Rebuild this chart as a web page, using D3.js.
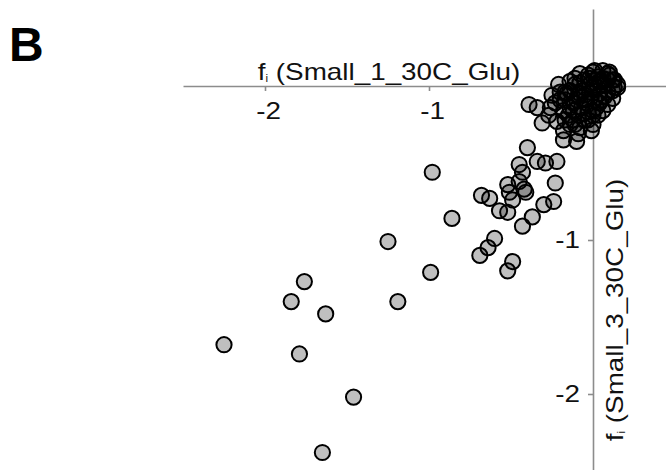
<!DOCTYPE html>
<html>
<head>
<meta charset="utf-8">
<script src="https://cdn.jsdelivr.net/npm/d3@7"></script>
<style>
  body { margin: 0; background: #fff; }
  svg text { font-family: "Liberation Sans", Arial, Helvetica, sans-serif; }
</style>
</head>
<body>
<svg id="chart" width="666" height="470"></svg>
<script>
// ---- data ----
const xValues = [
  -0.98, -0.86, -1.25, -0.99, -1.76, -1.84, -1.19, -1.63, -2.25, -1.79, -1.46, -1.65,
  -0.40, -0.34, -0.29, -0.22, -0.45, -0.43, -0.23, -0.52, -0.45, -0.51, -0.41, -0.42,
  -0.68, -0.63, -0.49, -0.57, -0.52, -0.30, -0.24, -0.37, -0.43, -0.60, -0.64, -0.69,
  -0.49, -0.52, -0.18, -0.10,
  -0.39, -0.34, -0.26, -0.31, -0.22, 0.00, -0.18, -0.12, -0.08, -0.15, -0.17, -0.14,
  -0.08, 0.00, 0.09, 0.13, 0.09, 0.00, -0.02, 0.04, -0.08, -0.04, 0.02, -0.10,
  -0.20, -0.21, -0.06, 0.00, -0.12,
  -0.05, 0.04, 0.10, 0.15, 0.09, 0.05, 0.00, 0.06, -0.07, -0.16, -0.12, -0.18,
  -0.25, -0.11, -0.02, 0.03, 0.12, 0.07, 0.12, -0.03, -0.14, -0.27, -0.09, 0.01, -0.05,
  -0.03, 0.01, 0.06, 0.10, 0.13, 0.15, 0.12, 0.07, 0.03, -0.02, -0.06, -0.09, -0.05,
  -0.01, 0.04, 0.09, 0.03, -0.03, -0.09, -0.14, -0.17, -0.11, -0.08, -0.14, -0.20,
  -0.23, 0.06, 0.02, -0.05, -0.01, -0.11, -0.17
];
const yValues = [
  -0.56, -0.86, -1.01, -1.21, -1.27, -1.40, -1.40, -1.48, -1.68, -1.74, -2.02, -2.38,
  -0.40, -0.49, -0.50, -0.49, -0.51, -0.56, -0.63, -0.64, -0.62, -0.69, -0.69, -0.67,
  -0.71, -0.73, -0.74, -0.81, -0.82, -0.77, -0.75, -0.85, -0.91, -0.99, -1.05, -1.10,
  -1.14, -1.20, -0.35, -0.36,
  -0.12, -0.14, -0.14, -0.24, -0.23, -0.25, -0.29, -0.22, -0.27, -0.19, -0.04, 0.03,
  0.08, 0.09, 0.08, -0.01, 0.04, -0.01, -0.04, -0.05, -0.05, -0.11, -0.14, -0.09,
  -0.09, 0.01, -0.18, -0.19, -0.16,
  0.04, 0.03, 0.07, -0.01, -0.04, -0.09, -0.16, -0.16, -0.14, -0.05, -0.11, -0.16,
  -0.06, 0.01, 0.05, 0.06, 0.04, -0.07, -0.08, -0.22, -0.25, -0.19, -0.31, -0.09, -0.06,
  0.07, 0.10, 0.10, 0.09, 0.04, 0.01, -0.03, 0.01, -0.01, 0.01, -0.03, -0.06, -0.09,
  -0.07, -0.11, -0.12, -0.19, -0.17, -0.19, -0.14, -0.09, 0.05, 0.02, -0.03, -0.04,
  -0.11, 0.05, 0.04, -0.22, -0.29, -0.25, -0.22
];
const xTicks = [-2, -1];
const xTickLabels = ["-2", "-1"];
const yTicks = [-1, -2];
const yTickLabels = ["-1", "-2"];
const xTitleVar = "(Small_1_30C_Glu)";
const yTitleVar = "(Small_3_30C_Glu)";
const panelLabel = "B";

// ---- layout ----
const svg = d3.select("#chart");
const x = d3.scaleLinear().domain([-2.5, 0.45]).range([183, 666.8]);
const y = d3.scaleLinear().domain([0.5, -2.5]).range([9, 471]);
const STRETCH = 1.16;
const axisColor = "#8c8c8c";
const textColor = "#111";
const fontSize = 24;

// x axis (through y=0)
const gx = svg.append("g")
  .attr("transform", `translate(0,${y(0)})`)
  .call(d3.axisBottom(x).tickValues(xTicks)
    .tickFormat((d, i) => xTickLabels[i])
    .tickSizeInner(5).tickSizeOuter(0).tickPadding(11));
gx.attr("font-size", null).attr("font-family", null);
gx.select(".domain").attr("stroke", axisColor).attr("stroke-width", 1.6);
gx.selectAll(".tick line").attr("stroke", axisColor).attr("stroke-width", 1.6);
gx.selectAll(".tick text")
  .attr("fill", textColor).attr("font-size", fontSize)
  .attr("x", 3 / STRETCH)
  .attr("transform", `scale(${STRETCH},1)`);

// y axis (through x=0)
const ySpacing = 5 + 8;
const gy = svg.append("g")
  .attr("transform", `translate(${x(0)},0)`)
  .call(d3.axisLeft(y).tickValues(yTicks)
    .tickFormat((d, i) => yTickLabels[i])
    .tickSizeInner(5).tickSizeOuter(0).tickPadding(8));
gy.attr("font-size", null).attr("font-family", null);
gy.select(".domain").attr("stroke", axisColor).attr("stroke-width", 1.6);
gy.selectAll(".tick line").attr("stroke", axisColor).attr("stroke-width", 1.6);
gy.selectAll(".tick text")
  .attr("fill", textColor).attr("font-size", fontSize)
  .attr("x", 0)
  .attr("transform", `translate(${-ySpacing},0) scale(${STRETCH},1)`);

// axis titles
function title(g, varText) {
  const t = g.append("text").attr("text-anchor", "middle")
    .attr("fill", textColor).attr("font-size", fontSize);
  t.append("tspan").text("f");
  t.append("tspan").attr("font-size", 10).attr("dy", 2).text("i");
  t.append("tspan").attr("dy", -2).text(" " + varText);
}
title(svg.append("g").attr("transform", `translate(389,80) scale(${STRETCH},1)`), xTitleVar);
title(svg.append("g").attr("transform", `translate(623,310) rotate(-90) scale(${STRETCH},1)`), yTitleVar);

// panel label
svg.append("text").attr("x", 9).attr("y", 61)
  .attr("font-size", 48).attr("font-weight", "bold").attr("fill", "#000")
  .text(panelLabel);

// points
const pts = xValues.map((v, i) => ({ x: v, y: yValues[i] }));
svg.append("g").selectAll("circle").data(pts).join("circle")
  .attr("cx", d => x(d.x))
  .attr("cy", d => y(d.y))
  .attr("r", 7.6)
  .attr("fill", "#000")
  .attr("fill-opacity", 0.25)
  .attr("stroke", "#000")
  .attr("stroke-width", 2);
</script>
</body>
</html>
